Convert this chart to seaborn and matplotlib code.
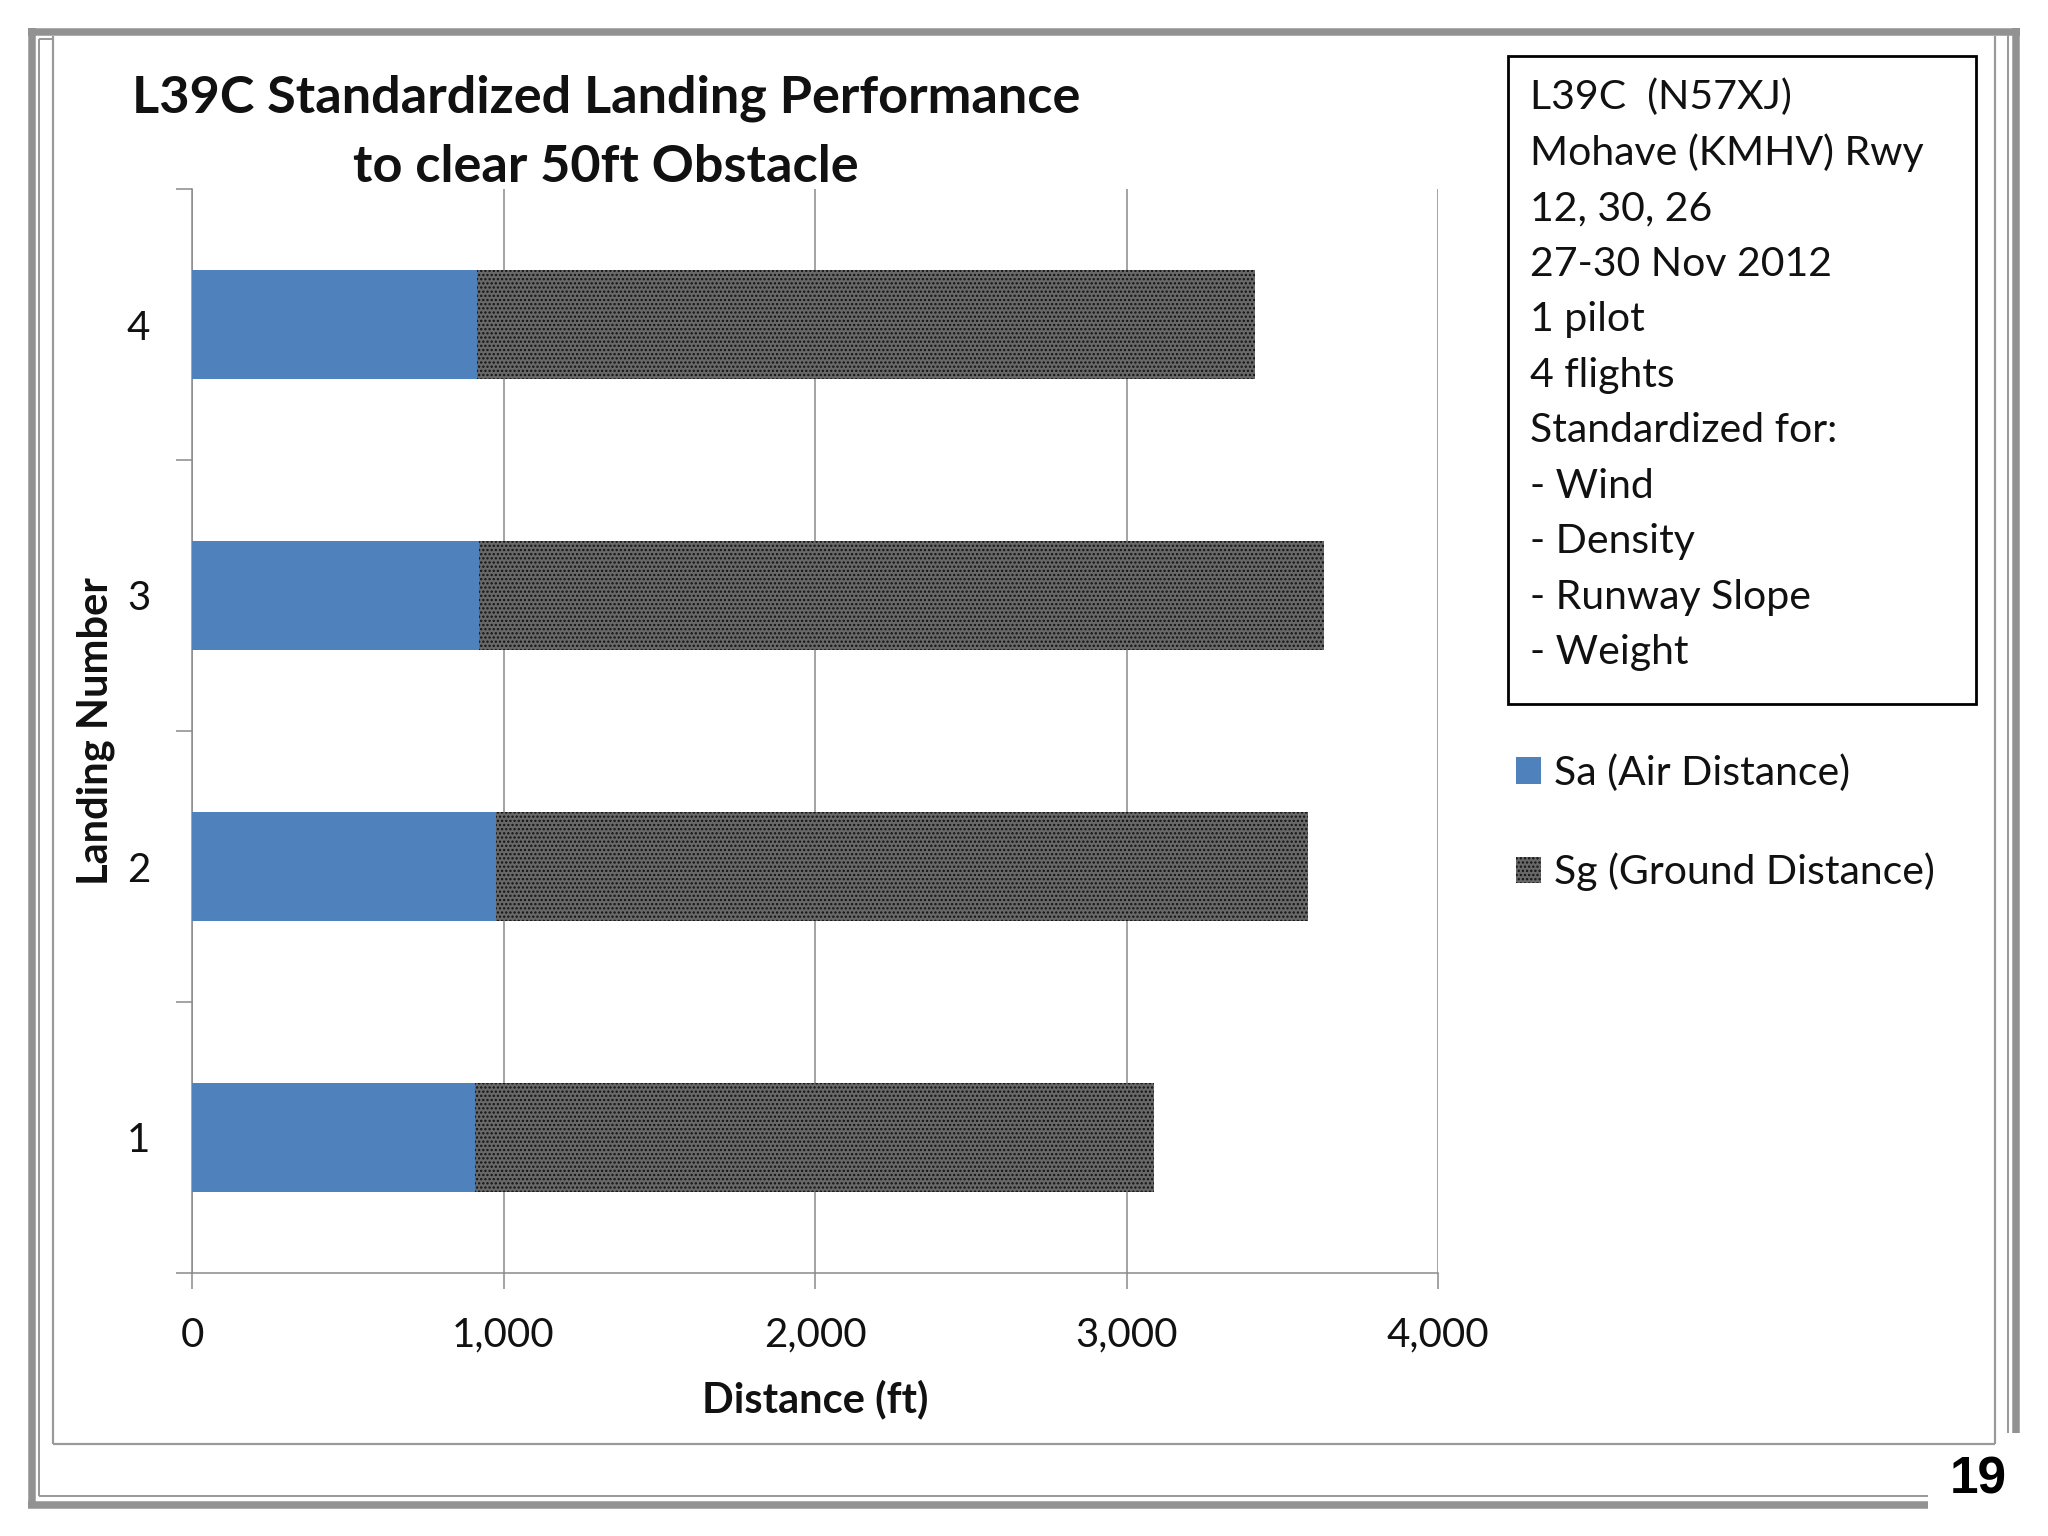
import numpy as np
import pandas as pd
import matplotlib
matplotlib.use('Agg')
import matplotlib.pyplot as plt
import seaborn as sns
from matplotlib.lines import Line2D
from matplotlib.patches import Rectangle

# ---------------- data ----------------
landing = ['1', '2', '3', '4']
air_dist = [908, 975, 922, 916]          # Sa (Air Distance), ft
ground_dist = [2180, 2609, 2713, 2496]   # Sg (Ground Distance), ft
x_ticks = [0, 1000, 2000, 3000, 4000]
x_tick_labels = ['0', '1,000', '2,000', '3,000', '4,000']
title_lines = ['L39C Standardized Landing Performance', 'to clear 50ft Obstacle']
info_lines = ['L39C  (N57XJ)', 'Mohave (KMHV) Rwy', '12, 30, 26', '27-30 Nov 2012',
              '1 pilot', '4 flights', 'Standardized for:', '- Wind', '- Density',
              '- Runway Slope', '- Weight']
series_labels = ['Sa (Air Distance)', 'Sg (Ground Distance)']
page_number = '19'

df = pd.DataFrame({'Landing': landing, 'Sa': air_dist, 'Sg': ground_dist})
df['Total'] = df['Sa'] + df['Sg']

sns.set_theme(style='white')
plt.rcParams['font.family'] = ['Lato', 'DejaVu Sans']
plt.rcParams['hatch.linewidth'] = 1.1

W, H = 2048, 1536
fig = plt.figure(figsize=(W / 100, H / 100), dpi=100)
fig.patch.set_facecolor('white')


def fx(x):
    return x / W


def fy(y):
    return 1 - y / H


renderer = fig.canvas.get_renderer()


def fit(t, target_w):
    bb = t.get_window_extent(renderer)
    t.set_fontsize(t.get_fontsize() * target_w / bb.width)
    return t.get_fontsize()


# ---------------- slide frames ----------------
thick_c = '#929292'
thin_c = '#9a9a9a'
def fline(x0, y0, x1, y1, lw_px, color):
    fig.add_artist(Line2D([fx(x0), fx(x1)], [fy(y0), fy(y1)], transform=fig.transFigure,
                          lw=lw_px * 0.72, color=color, solid_capstyle='butt'))

# outer thick
fline(28, 31.5, 2020, 31.5, 7.5, thick_c)
fline(31.5, 28, 31.5, 1508, 7.5, thick_c)
fline(28, 1504.5, 1928, 1504.5, 7.5, thick_c)
fline(2016, 28, 2016, 1433, 7.5, thick_c)
# inner thin
fline(38.5, 38.5, 52, 38.5, 2, thin_c)
fline(38.5, 38.5, 38.5, 1496, 2, thin_c)
fline(38.5, 1496, 1928, 1496, 2, thin_c)
fline(2008, 35, 2008, 1433, 2, thin_c)
# chart area frame
fline(52.5, 36, 52.5, 1444, 2.2, thin_c)
fline(52.5, 1444, 1995, 1444, 2.2, thin_c)
fline(1995, 36, 1995, 1444, 2.2, thin_c)

# ---------------- axes & bars ----------------
ax = fig.add_axes([fx(192), fy(1273), (1438 - 192) / W, (1273 - 189) / H])
order = landing[::-1]
sns.barplot(data=df, x='Total', y='Landing', order=order, orient='h', color='#686868',
            saturation=1, width=0.4, ax=ax, zorder=2)
sns.barplot(data=df, x='Sa', y='Landing', order=order, orient='h', color='#4f81bd',
            saturation=1, width=0.4, ax=ax, zorder=3)
sg_bars = ax.containers[0]
sa_bars = ax.containers[1]
for p in sg_bars:
    p.set_hatch('....')
    p.set_edgecolor('#111111')
    p.set_linewidth(0)
for p in sa_bars:
    p.set_linewidth(0)

ax.set_xlim(0, 4000)
ax.set_ylim(3.5, -0.5)
axis_c = '#8a8a8a'
ax.set_axisbelow(True)
ax.xaxis.grid(True, color=axis_c, lw=1.1)
ax.yaxis.grid(False)
for s in ['top', 'right']:
    ax.spines[s].set_visible(False)
for s in ['left', 'bottom']:
    ax.spines[s].set_color(axis_c)
    ax.spines[s].set_linewidth(1.1)

tick_fs = 29
ax.set_xticks(x_ticks, x_tick_labels)
ax.tick_params(axis='x', which='major', bottom=True, direction='out', length=11.5,
               width=1.1, color=axis_c, pad=20, labelsize=tick_fs, labelcolor='#111111')
ax.set_yticks(range(len(order)), order)
ax.set_yticks([-0.5, 0.5, 1.5, 2.5, 3.5], minor=True)
ax.tick_params(axis='y', which='major', left=False, length=0, pad=30,
               labelsize=tick_fs, labelcolor='#111111')
ax.tick_params(axis='y', which='minor', left=True, direction='out', length=11.5,
               width=1.1, color=axis_c)

ax.set_xlabel('Distance (ft)', fontsize=30, fontweight='bold', color='#111111')
ax.set_ylabel('Landing Number', fontsize=30, fontweight='bold', color='#111111')
ax.xaxis.set_label_coords(0.5, -0.098)
ax.yaxis.set_label_coords(-0.062, 0.5)

# ---------------- title ----------------
t1 = fig.text(fx(606), fy(112), title_lines[0], ha='center', va='baseline',
              fontsize=36, fontweight='bold', color='#111111')
tfs = fit(t1, 947)
fig.text(fx(606), fy(182), title_lines[1], ha='center', va='baseline',
         fontsize=tfs, fontweight='bold', color='#111111')

# ---------------- info box ----------------
fig.add_artist(Rectangle((fx(1508), fy(704)), (1976 - 1508) / W, (704 - 56) / H,
                         transform=fig.transFigure, fill=False, ec='black', lw=2.0))
info_texts = []
for i, line in enumerate(info_lines):
    info_texts.append(fig.text(fx(1530), fy(109 + 55.5 * i), line, ha='left', va='baseline',
                               fontsize=30, color='#111111'))
ifs = fit(info_texts[1], 393)
for t in info_texts:
    t.set_fontsize(ifs)

# ---------------- legend ----------------
F = ifs / 0.72  # font size in px
leg = ax.legend(handles=[sa_bars, sg_bars], labels=series_labels,
                loc='upper left', bbox_to_anchor=(fx(1516), fy(754)),
                bbox_transform=fig.transFigure, frameon=False, fontsize=ifs,
                borderpad=0, borderaxespad=0, handlelength=25 / F, handleheight=26 / F,
                handletextpad=13 / F, labelspacing=1.49)
for t in leg.get_texts():
    t.set_color('#111111')

# ---------------- page number ----------------
fig.text(fx(1978), fy(1494), page_number, ha='center', va='baseline', fontsize=37,
         fontweight='bold', family=['Liberation Sans', 'DejaVu Sans'], color='black')

fig.savefig('out.png', dpi=100, facecolor='white')
